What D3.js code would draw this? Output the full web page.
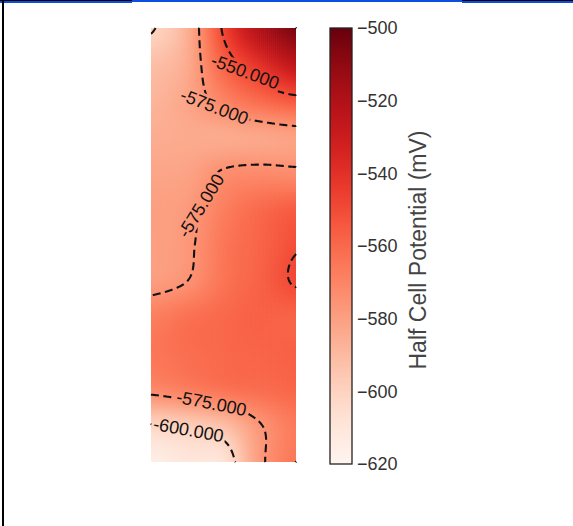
<!DOCTYPE html>
<html>
<head>
<meta charset="utf-8">
<script src="https://cdn.jsdelivr.net/npm/d3@7"></script>
<style>
    body { margin: 0; background: #fff; }
    svg { display: block; font-family: "Liberation Sans", Arial, sans-serif; }
</style>
</head>
<body>
<svg id="chart" width="573" height="526"></svg>
<script>
// survey grid: 5 columns across, 13 rows down, half cell potential in mV
var colIdx = [0, 1, 2, 3, 4];
var rowIdx = [0, 1, 2, 3, 4, 5, 6, 7, 8, 9, 10, 11, 12];
var potential = [
    [-601, -586, -548, -520, -505],
    [-592, -584, -558, -540, -525],
    [-588, -582, -570, -560, -554],
    [-585, -584, -584, -582, -580],
    [-582, -581, -574, -572, -573],
    [-580, -578, -568, -560, -556],
    [-580, -577, -565, -558, -551],
    [-579, -575, -564, -557, -549],
    [-568, -563, -560, -557, -558],
    [-565, -562, -560, -558, -557],
    [-572, -568, -564, -561, -559],
    [-601, -598, -592, -576, -566],
    [-615, -610, -608, -578, -565]
];
var levels = [-600, -575, -550];
var cbTicks = [-500, -520, -540, -560, -580, -600, -620];
// contour labels: level and where clabel put them (grid units)
var labelLevel = [-550, -575, -575, -575, -600];
var labelCol = [2.40, 1.66, 1.27, 1.66, 1.02];
var labelRow = [1.40, 2.30, 4.89, 10.42, 11.12];
// label rotation (deg)
var labelAngle = [20, 21, -58, 11, 10];

var svg = d3.select("#chart");
var nCol = colIdx.length, nRow = rowIdx.length;
var x = d3.scaleLinear().domain([0, nCol - 1]).range([151, 296]);
var y = d3.scaleLinear().domain([0, nRow - 1]).range([28, 462]);
var color = d3.scaleSequential(d3.interpolateReds).domain([-620, -500]);

// page frame
svg.append("rect").attr("x", 0).attr("y", 0).attr("width", 573).attr("height", 3).attr("fill", "#0a4fe0");
svg.append("rect").attr("x", 0).attr("y", 0).attr("width", 132).attr("height", 1).attr("fill", "#000");
svg.append("rect").attr("x", 462).attr("y", 0).attr("width", 111).attr("height", 1).attr("fill", "#000");
svg.append("rect").attr("x", 132).attr("y", 2).attr("width", 330).attr("height", 2).attr("fill", "#fff");
svg.append("rect").attr("x", 2).attr("y", 0).attr("width", 2).attr("height", 526).attr("fill", "#000");

function cubic(p0, p1, p2, p3, t) {
    return p1 + 0.5 * t * (p2 - p0 + t * (2 * p0 - 5 * p1 + 4 * p2 - p3 + t * (3 * (p1 - p2) + p3 - p0)));
}
function at(r, c) {
    r = Math.max(0, Math.min(nRow - 1, r));
    c = Math.max(0, Math.min(nCol - 1, c));
    return potential[r][c];
}
function sample(gx, gy) {
    var c = Math.min(Math.floor(gx), nCol - 2), r = Math.min(Math.floor(gy), nRow - 2);
    var tx = gx - c, ty = gy - r, v = [];
    for (var k = -1; k <= 2; k++) {
        v.push(cubic(at(r + k, c - 1), at(r + k, c), at(r + k, c + 1), at(r + k, c + 2), tx));
    }
    return cubic(v[0], v[1], v[2], v[3], ty);
}

// heat map
svg.append("clipPath").attr("id", "heatClip").append("rect")
    .attr("x", x(0)).attr("y", y(0)).attr("width", x(nCol - 1) - x(0)).attr("height", y(nRow - 1) - y(0));
var cellsX = 73, cellsY = 217, cells = [];
for (var j = 0; j < cellsY; j++) {
    for (var i = 0; i < cellsX; i++) {
        cells.push({i: i, j: j, v: sample((i + 0.5) / cellsX * (nCol - 1), (j + 0.5) / cellsY * (nRow - 1))});
    }
}
svg.append("g").attr("clip-path", "url(#heatClip)")
    .selectAll("rect").data(cells).enter().append("rect")
    .attr("x", function (d) { return x(d.i / cellsX * (nCol - 1)); })
    .attr("y", function (d) { return y(d.j / cellsY * (nRow - 1)); })
    .attr("width", (x(nCol - 1) - x(0)) / cellsX + 0.6)
    .attr("height", (y(nRow - 1) - y(0)) / cellsY + 0.6)
    .attr("fill", function (d) { return color(d.v); });

// contours on a fine grid
var nx = 145, ny = 434, values = new Array(nx * ny);
for (var jj = 0; jj < ny; jj++) {
    for (var ii = 0; ii < nx; ii++) {
        values[jj * nx + ii] = sample((ii + 0.5) / nx * (nCol - 1), (jj + 0.5) / ny * (nRow - 1));
    }
}
var contours = d3.contours().size([nx, ny]).thresholds(levels)(values);

function onEdge(a, b) {
    var e = 1e-6;
    return (a[0] <= e && b[0] <= e) || (a[0] >= nx - e && b[0] >= nx - e) ||
        (a[1] <= e && b[1] <= e) || (a[1] >= ny - e && b[1] >= ny - e);
}
function toPx(p) {
    return [x(p[0] / nx * (nCol - 1)), y(p[1] / ny * (nRow - 1))];
}
// turn filled rings into open lines, dropping the parts on the border
function linesOf(multi) {
    var out = [];
    multi.coordinates.forEach(function (poly) {
        poly.forEach(function (ring) {
            var n = ring.length - 1, start = 0, cur = null;
            for (var k = 0; k < n; k++) {
                if (onEdge(ring[k], ring[k + 1])) { start = k + 1; break; }
            }
            for (var s = 0; s < n; s++) {
                var k2 = (start + s) % n, a = ring[k2], b = ring[k2 + 1];
                if (onEdge(a, b)) {
                    if (cur) { out.push(cur); cur = null; }
                    continue;
                }
                if (!cur) cur = [toPx(a)];
                cur.push(toPx(b));
            }
            if (cur) out.push(cur);
        });
    });
    return out;
}
var linesByLevel = {};
contours.forEach(function (c) { linesByLevel[c.value] = linesOf(c); });

var mask = svg.append("mask").attr("id", "labelMask")
    .attr("maskUnits", "userSpaceOnUse").attr("x", 0).attr("y", 0).attr("width", 573).attr("height", 526);
mask.append("rect").attr("width", 573).attr("height", 526).attr("fill", "#fff");

var lineGen = d3.line();
var contourG = svg.append("g").attr("mask", "url(#labelMask)");
levels.forEach(function (lv) {
    contourG.selectAll(null).data(linesByLevel[lv]).enter().append("path")
        .attr("d", lineGen)
        .attr("fill", "none")
        .attr("stroke", "#111")
        .attr("stroke-width", 2.1)
        .attr("stroke-dasharray", "8,4.5");
});

// labels sit on the nearest point of their line, inline (line cut under the text)
var labelG = svg.append("g");
labelLevel.forEach(function (lv, n) {
    var px = x(labelCol[n]), py = y(labelRow[n]), best = null;
    linesByLevel[lv].forEach(function (pl) {
        pl.forEach(function (p) {
            var d = (p[0] - px) * (p[0] - px) + (p[1] - py) * (p[1] - py);
            if (!best || d < best.d) best = {d: d, p: p};
        });
    });
    var p = best ? best.p : [px, py];
    var tf = "translate(" + p[0] + "," + p[1] + ") rotate(" + labelAngle[n] + ")";
    var t = labelG.append("text")
        .attr("transform", tf)
        .attr("text-anchor", "middle")
        .attr("dy", "0.35em")
        .attr("font-size", 18)
        .attr("fill", "#111")
        .text(d3.format(".3f")(lv).replace("\u2212", "-"));
    var w = t.node().getComputedTextLength() + 4;
    mask.append("rect").attr("transform", tf)
        .attr("x", -w / 2).attr("y", -9).attr("width", w).attr("height", 18).attr("fill", "#000");
});

// colour bar
var cb = d3.scaleLinear().domain([-620, -500]).range([464, 28]);
var grad = svg.append("defs").append("linearGradient").attr("id", "cbGrad")
    .attr("x1", 0).attr("y1", 1).attr("x2", 0).attr("y2", 0);
d3.range(0, 1.0001, 0.05).forEach(function (t) {
    grad.append("stop").attr("offset", t).attr("stop-color", color(-620 + 120 * t));
});
svg.append("rect").attr("x", 330).attr("y", cb(-500)).attr("width", 22)
    .attr("height", cb(-620) - cb(-500))
    .attr("fill", "url(#cbGrad)").attr("stroke", "#222").attr("stroke-width", 1.3);

var axis = svg.append("g").attr("transform", "translate(352,0)")
    .call(d3.axisRight(cb).tickValues(cbTicks).tickSize(0).tickPadding(5));
axis.select(".domain").remove();
axis.selectAll("text").attr("font-size", 18).attr("fill", "#333")
    .attr("font-family", "Liberation Sans, Arial, sans-serif");

svg.append("text")
    .attr("transform", "translate(426,250) rotate(-90)")
    .attr("text-anchor", "middle")
    .attr("font-size", 23)
    .attr("fill", "#444")
    .text("Half Cell Potential (mV)");
</script>
</body>
</html>
